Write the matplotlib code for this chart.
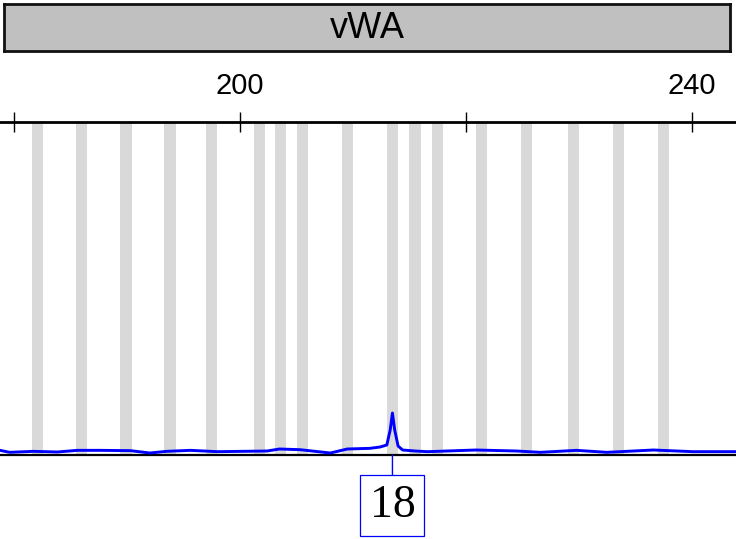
import matplotlib
matplotlib.use("Agg")
from matplotlib import pyplot as plt

# locus and bins (bp)
locus = "vWA"
bin_centers = [182.1, 186.0, 189.9, 193.8, 197.5, 201.7, 203.6, 205.5, 209.5,
               213.5, 215.5, 217.5, 221.4, 225.4, 229.5, 233.5, 237.5]
bin_width = 0.98

# trace (bp, rfu)
trace_bp = [178.74, 179.6, 181.7, 183.8, 185.6, 187.6, 190.3, 192.0, 193.5,
            195.6, 198.0, 202.4, 203.5, 205.3, 208.0, 209.5, 211.5, 212.4,
            213.0, 213.3, 213.5, 213.7, 214.0, 214.4, 215.5, 216.6, 220.9,
            224.5, 226.6, 229.8, 232.5, 236.6, 240.1, 243.93]
trace_rfu = [14, 8, 11, 9, 14, 14, 13, 6, 11, 14, 10, 12, 18, 16, 6, 18, 20,
             24, 30, 75, 126, 75, 27, 15, 12, 10, 15, 12, 8, 14, 8, 15, 10, 10]

# called allele
allele_label = "18"
allele_bp = 213.5

tick_pos = [180, 200, 220, 240]
tick_labels = ["", "200", "", "240"]

W, H = 736, 539
fig = plt.figure(figsize=(W / 100, H / 100), dpi=100)

# locus header bar
hb = fig.add_axes([4 / W, (H - 50.5) / H, 726 / W, 47 / H])
hb.set_facecolor("#c0c0c0")
hb.set_xticks([])
hb.set_yticks([])
for s in hb.spines.values():
	s.set_linewidth(2)
	s.set_color("#111111")
hb.text(0.5, 0.46, locus, ha="center", va="center", fontsize=26,
	family="Liberation Sans", transform=hb.transAxes)

# main trace panel
ax = fig.add_axes([0, (H - 455) / H, 1, 333 / H])
ax.set_xlim(178.74, 243.93)
ax.set_ylim(0, 1000)

for c in bin_centers:
	ax.axvspan(c - bin_width / 2, c + bin_width / 2, color="#d9d9d9", lw=0, zorder=1)

ax.plot(trace_bp, trace_rfu, color="#0000ff", lw=2.1, zorder=3)

for side in ["left", "right"]:
	ax.spines[side].set_visible(False)
ax.spines["top"].set_linewidth(2)
ax.spines["bottom"].set_linewidth(1.6)
ax.spines["top"].set_zorder(4)

ax.set_yticks([])
ax.xaxis.tick_top()
ax.set_xticks(tick_pos, labels=tick_labels)
ax.tick_params(axis="x", direction="inout", length=15, width=1.0,
	pad=8.3, labelsize=21)
for t in ax.get_xticklabels():
	t.set_family("Liberation Sans")

ax.annotate(
	allele_label,
	xy=(allele_bp, 0),
	xytext=(0, -36.4),
	textcoords="offset points",
	ha="center",
	va="center",
	fontsize=33,
	family="Liberation Serif",
	bbox=dict(boxstyle="square,pad=0.2", fc="white", ec="#0000ff", lw=0.9),
	arrowprops=dict(arrowstyle="-", color="#0000ff", lw=1.0, shrinkA=0, shrinkB=0),
	annotation_clip=False,
	zorder=5,
)

fig.savefig("out.png", dpi=100)
